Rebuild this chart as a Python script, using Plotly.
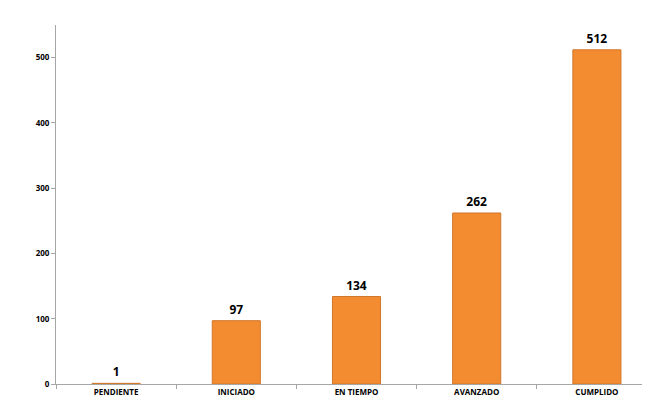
import plotly.graph_objects as go

categories = ["PENDIENTE", "INICIADO", "EN TIEMPO", "AVANZADO", "CUMPLIDO"]
values = [1, 97, 134, 262, 512]
y_ticks = [0, 100, 200, 300, 400, 500]

fig = go.Figure()
fig.add_trace(go.Bar(
    x=categories, y=values,
    width=0.4,
    marker=dict(color="#F38C31", line=dict(color="#D0762A", width=1)),
    text=[str(v) for v in values],
    textposition="outside",
    textfont=dict(family="Open Sans", size=12, color="black", weight="bold"),
    cliponaxis=False,
))
fig.update_layout(
    width=650, height=418,
    margin=dict(l=48, r=1, t=17, b=42),
    paper_bgcolor="white", plot_bgcolor="white",
    showlegend=False,
    font=dict(family="Open Sans", color="black"),
)
fig.update_xaxes(
    showline=True, linecolor="#A6A6A6", linewidth=1,
    ticks="outside", tickson="boundaries", ticklen=4, tickcolor="#A6A6A6",
    tickfont=dict(size=8, weight="bold"),
    showgrid=False,
)
fig.update_yaxes(
    range=[0, 550], tickvals=y_ticks,
    showline=True, linecolor="#A6A6A6", linewidth=1,
    ticks="outside", ticklen=4, tickcolor="#A6A6A6",
    tickfont=dict(size=8, weight="bold"),
    showgrid=False, zeroline=False,
)
fig.write_html("out.html")
